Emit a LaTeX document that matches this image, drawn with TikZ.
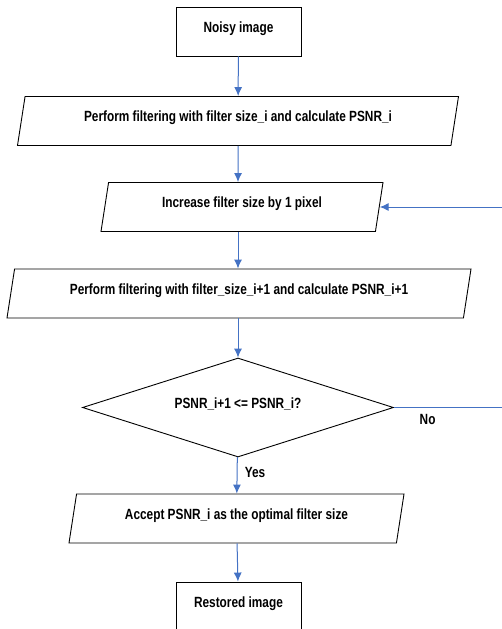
\documentclass[tikz,border=0pt]{standalone}
\usepackage{color}
\usepackage{fontspec}
\setmainfont{Liberation Sans}[FakeStretch=0.8]
\usepackage{tikz}
\usetikzlibrary{shapes, arrows, arrows.meta}

\definecolor{arrowBlue}{RGB}{68,114,196}

\begin{document}
\begin{tikzpicture}[
    x=1pt, y=-1pt,
    termBox/.style={draw, minimum width=125pt, minimum height=49pt, text depth=9pt},
    stepBox/.style={draw, trapezium, trapezium left angle=74, trapezium right angle=106,
        trapezium stretches body=true, minimum height=49pt, inner xsep=0pt, text depth=9pt},
    testBox/.style={draw, diamond, aspect=3.14, minimum width=311pt, minimum height=99pt,
        inner sep=0pt, text depth=9pt},
    flow/.style={->, >={Latex[length=9pt, width=8pt]}, draw=arrowBlue, line width=1pt},
    every node/.style={
        text centered,
        font=\fontsize{14.8}{17}\selectfont\bfseries,
        line width=0.9pt,
        }
        ]
    \useasboundingbox (0, 0) rectangle (501, 629);

    \node[termBox] (noisy) at (238.5, 31.5) {Noisy image};
    \node[stepBox, minimum width=441pt] (filter) at (238, 121) {Perform filtering with filter size\_i and calculate PSNR\_i};
    \node[stepBox, minimum width=282pt] (increase) at (242, 207) {Increase filter size by 1 pixel};
    \node[stepBox, minimum width=464pt] (filterNext) at (239, 293.5) {Perform filtering with filter\_size\_i+1 and calculate PSNR\_i+1};
    \node[testBox] (test) at (238, 407.5) {PSNR\_i+1 <= PSNR\_i?};
    \node[stepBox, minimum width=335pt] (accept) at (236.5, 518.5) {Accept PSNR\_i as the optimal filter size};
    \node[termBox] (restored) at (238.5, 606.5) {Restored image};

    \node[anchor=north west, xshift=22pt, yshift=-3pt] (no) at (test.east) {No};
    \node[anchor=north west, xshift=3pt, yshift=-6pt] (yes) at (test.south) {Yes};

    \draw[flow] (noisy) -- (filter);
    \draw[flow] (filter) -- (filter |- increase.north);
    \draw[flow] (filter |- increase.south) -- (filter |- filterNext.north);
    \draw[flow] (filter |- filterNext.south) -- (test.north);
    \draw[flow] (test) -- (accept);
    \draw[flow] (accept) -- (restored);
    \draw[flow] (test.east) -- ++(125, 0) |- (increase.east);
\end{tikzpicture}
\end{document}
